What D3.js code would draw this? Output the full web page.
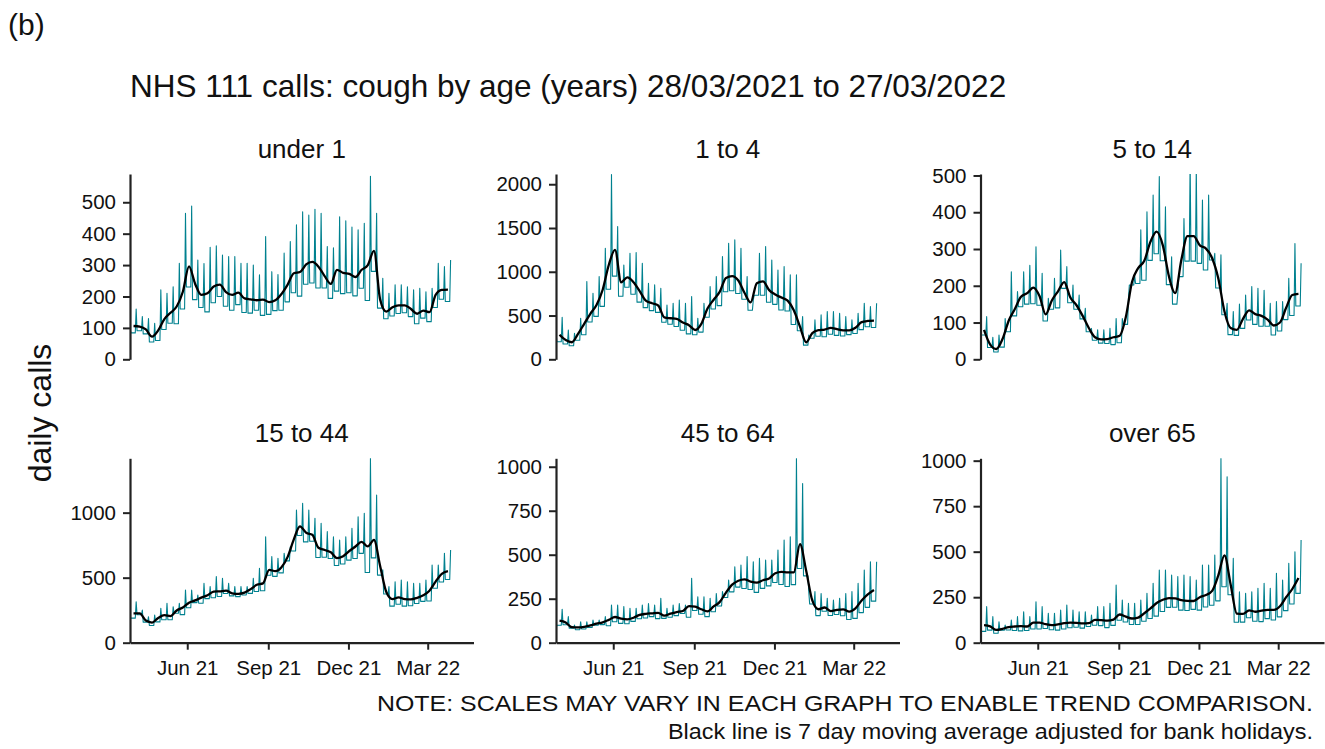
<!DOCTYPE html>
<html><head><meta charset="utf-8">
<script src="https://cdn.jsdelivr.net/npm/d3@7"></script>
<style>
body{margin:0;background:#fff}
svg{display:block}
text{font-family:"Liberation Sans",Arial,sans-serif;fill:#111}
</style>
</head><body>
<svg id="chart" width="1325" height="749"></svg>
<script>
// ---------- DATA ----------
const ageGroups = ["under 1", "1 to 4", "5 to 14", "15 to 44", "45 to 64", "over 65"];
const firstDayCalls = [100, 300, 100, 200, 80, 110]; // Sun 28/03/2021
// Weekly values, weeks Mon 29/03/2021 ... Sun 27/03/2022 (52 weeks)
const under1Weekend = [160,136,130,115,221,210,231,306,465,488,316,305,357,361,332,327,327,306,306,300,269,391,279,270,338,375,428,470,459,478,465,359,355,454,441,421,412,433,583,465,258,210,237,237,231,221,226,215,226,306,295,316];
const under1Weekday = [84,91,81,55,60,95,115,113,160,230,190,165,151,180,200,169,156,174,149,147,156,140,143,155,156,183,212,201,239,243,227,227,194,217,209,212,202,226,187,280,163,129,138,146,148,136,113,131,120,165,191,184];
const under1Avg = [106,104,95,72,92,128,148,168,215,296,240,205,210,232,238,214,205,212,194,191,188,190,182,188,208,238,274,278,302,310,295,265,240,285,275,272,262,285,300,345,190,152,166,172,172,160,145,155,150,205,221,222];

const age1to4Weekend = [480,335,297,469,888,754,945,1269,2110,1516,1078,1212,1219,1097,869,850,812,621,640,678,640,716,469,640,830,945,1173,1326,1364,1269,945,678,1212,1288,1135,1021,1059,964,964,488,278,450,507,545,545,526,488,450,526,640,602,640];
const age1to4Weekday = [200,174,154,218,280,426,490,605,800,950,720,824,744,653,590,556,536,424,400,374,332,290,281,311,480,574,613,772,784,752,686,560,732,731,652,628,563,552,398,327,162,240,263,258,286,273,267,282,294,339,372,363];
const age1to4Avg = [280,220,195,290,405,520,620,795,1080,1250,880,935,880,780,670,640,615,480,469,461,420,390,335,405,580,680,773,930,950,900,760,650,869,890,790,740,705,670,560,373,195,300,333,340,360,345,330,330,360,425,438,442];

const age5to14Weekend = [116,60,66,111,238,184,238,256,306,234,166,220,297,252,202,175,139,84,80,80,84,111,111,166,229,352,401,447,497,415,279,179,383,540,520,433,447,288,284,152,130,150,175,198,193,188,152,157,157,220,315,261];
const age5to14Weekday = [66,32,20,33,75,118,143,150,151,147,104,136,140,193,154,136,110,75,52,44,43,40,45,95,202,206,215,269,287,268,203,150,225,267,267,261,243,270,194,121,67,65,84,107,95,90,90,66,77,108,119,145];
const age5to14Avg = [80,40,28,55,105,137,170,180,195,172,122,160,185,210,168,147,118,85,60,54,55,60,64,115,210,248,268,320,347,310,225,180,270,335,335,310,301,275,220,130,85,80,110,133,123,118,108,92,100,140,175,178];

const age15to44Weekend = [315,251,200,213,264,303,277,303,405,405,367,456,431,508,495,456,431,431,431,495,572,815,662,649,687,738,1020,1072,1020,956,918,854,815,790,815,879,969,995,1418,1136,560,431,469,482,469,456,456,482,597,597,687,713];
const age15to44Weekday = [189,215,158,132,160,176,176,226,216,269,308,303,339,346,355,378,360,354,367,379,394,400,519,510,537,629,705,824,775,780,655,657,647,594,605,635,648,687,540,652,520,374,281,296,281,284,301,318,321,419,467,486];
const age15to44Avg = [225,225,170,155,190,212,205,248,270,308,325,347,365,392,395,400,380,376,385,412,445,456,560,550,580,660,795,895,845,830,730,713,695,650,665,705,740,775,740,790,590,390,335,349,335,333,345,365,400,470,530,551];

const age45to64Weekend = [190,148,100,119,119,129,129,148,214,214,205,195,195,214,223,214,252,195,214,223,214,366,261,261,252,280,290,356,432,441,489,460,479,470,470,527,583,602,1047,905,290,290,280,252,242,252,280,290,337,413,460,460];
const age45to64Weekday = [99,102,83,74,78,86,100,103,96,119,110,108,121,136,140,148,137,138,145,154,166,145,183,162,148,176,209,257,289,316,308,302,286,309,323,342,331,319,330,422,380,220,154,179,155,160,153,132,138,171,201,236];
const age45to64Avg = [125,115,88,87,90,98,108,116,130,146,137,133,142,158,164,167,170,154,165,174,180,208,205,190,178,206,232,285,330,352,360,347,341,355,365,395,403,400,400,560,410,240,190,200,180,186,189,177,195,240,275,300];

const over65Weekend = [198,143,115,97,125,143,170,143,225,198,161,161,180,207,180,170,170,152,198,198,216,317,234,216,216,234,271,326,399,399,372,363,372,363,344,427,427,482,1013,912,463,280,271,280,299,326,299,381,344,436,500,564];
const over65Weekday = [62,69,52,68,70,67,65,67,75,75,78,71,69,75,82,85,80,89,96,94,83,95,123,114,100,100,118,133,146,171,194,195,179,177,183,179,196,206,230,307,263,112,113,137,118,116,132,125,142,176,213,271];
const over65Avg = [97,90,70,76,86,89,91,89,110,110,102,97,101,107,110,109,106,107,125,124,121,127,155,143,133,138,162,188,218,236,245,243,234,230,229,250,262,285,370,480,320,160,158,178,170,176,180,180,200,250,295,355];

const yAxisMax = [590, 2117, 504, 1418, 1048, 1013];
const yTicksUnder1 = [0,100,200,300,400,500];
const yTicks1to4 = [0,500,1000,1500,2000];
const yTicks5to14 = [0,100,200,300,400,500];
const yTicks15to44 = [0,500,1000];
const yTicks45to64 = [0,250,500,750,1000];
const yTicksOver65 = [0,250,500,750,1000];
const xTickDates = ["2021-06-01","2021-09-01","2021-12-01","2022-03-01"];
const xTickLabels = ["Jun 21","Sep 21","Dec 21","Mar 22"];

const titleText = "NHS 111 calls: cough by age (years) 28/03/2021 to 27/03/2022";
const noteLine1 = "NOTE: SCALES MAY VARY IN EACH GRAPH TO ENABLE TREND COMPARISON.";
const noteLine2 = "Black line is 7 day moving average adjusted for bank holidays.";

// ---------- BUILD ----------
const weekendSeries = [under1Weekend, age1to4Weekend, age5to14Weekend, age15to44Weekend, age45to64Weekend, over65Weekend];
const weekdaySeries = [under1Weekday, age1to4Weekday, age5to14Weekday, age15to44Weekday, age45to64Weekday, over65Weekday];
const avgSeries = [under1Avg, age1to4Avg, age5to14Avg, age15to44Avg, age45to64Avg, over65Avg];
const yTickSets = [yTicksUnder1, yTicks1to4, yTicks5to14, yTicks15to44, yTicks45to64, yTicksOver65];

const parse = d3.timeParse("%Y-%m-%d");
const day0 = parse("2021-03-28");
const dayN = n => d3.timeDay.offset(day0, n);

// Mon-Sat at the weekday level, Sunday at the weekend peak
function dailyCalls(i) {
  const out = [{date: dayN(0), v: firstDayCalls[i]}];
  weekendSeries[i].forEach((hi, w) => {
    const lo = weekdaySeries[i][w];
    for (let d = 1; d <= 7; d++) out.push({date: dayN(7 * w + d), v: d === 7 ? hi : lo});
  });
  return out;
}
function avgPoints(i) {
  return avgSeries[i].map((v, w) => ({date: dayN(7 * w + 4), v}));
}

const svg = d3.select("#chart");
const colLeft = [130, 556, 980.5];
const panelW = 343.5;
const rows = [{top: 174, bottom: 359.3}, {top: 458.3, bottom: 642.7}];
const teal = "#00818f";
const axisCol = "#222";

svg.append("text").attr("x", 8).attr("y", 35).attr("font-size", 30).text("(b)");
svg.append("text").attr("x", 130).attr("y", 97).attr("font-size", 31.5).text(titleText);
svg.append("text").attr("transform", "translate(51,413) rotate(-90)")
  .attr("text-anchor", "middle").attr("font-size", 32).text("daily calls");

const x = d3.scaleTime().domain([day0, parse("2022-04-22")]).range([0, panelW]);

ageGroups.forEach((name, i) => {
  const r = rows[Math.floor(i / 3)], c = i % 3;
  const g = svg.append("g").attr("transform", `translate(${colLeft[c]},${r.top})`);
  const h = r.bottom - r.top;
  const y = d3.scaleLinear().domain([0, yAxisMax[i]]).range([h, 0]);

  svg.append("text").attr("x", colLeft[c] + panelW / 2).attr("y", r.top - 16)
    .attr("text-anchor", "middle").attr("font-size", 26).text(name);

  const clipId = "clip" + i;
  g.append("clipPath").attr("id", clipId).append("rect")
    .attr("x", 0).attr("y", 0).attr("width", panelW).attr("height", h);

  const line = d3.line().x(d => x(d.date)).y(d => y(d.v));
  g.append("path").datum(dailyCalls(i)).attr("clip-path", `url(#${clipId})`)
    .attr("fill", "none").attr("stroke", teal).attr("stroke-width", 1.1)
    .attr("stroke-linejoin", "round").attr("d", line);
  g.append("path").datum(avgPoints(i)).attr("clip-path", `url(#${clipId})`)
    .attr("fill", "none").attr("stroke", "#000").attr("stroke-width", 2.3)
    .attr("stroke-linejoin", "round")
    .attr("d", line.curve(d3.curveMonotoneX));

  const ya = g.append("g").call(d3.axisLeft(y).tickValues(yTickSets[i]).tickFormat(d3.format("d"))
    .tickSize(7).tickPadding(7).tickSizeOuter(0));
  ya.select(".domain").attr("stroke", axisCol).attr("stroke-width", 2.2);
  ya.selectAll(".tick line").attr("stroke", axisCol).attr("stroke-width", 2);
  ya.selectAll(".tick text").attr("font-size", 20.5).attr("fill", "#111").attr("font-family", "Liberation Sans, Arial, sans-serif");

  if (r === rows[1]) {
    const xa = g.append("g").attr("transform", `translate(0,${h})`)
      .call(d3.axisBottom(x).tickValues(xTickDates.map(parse))
        .tickFormat((d, k) => xTickLabels[k]).tickSize(7).tickPadding(11).tickSizeOuter(0));
    xa.select(".domain").attr("stroke", axisCol).attr("stroke-width", 2.2);
    xa.selectAll(".tick line").attr("stroke", axisCol).attr("stroke-width", 2);
    xa.selectAll(".tick text").attr("font-size", 20.5).attr("fill", "#111").attr("font-family", "Liberation Sans, Arial, sans-serif");
  }
});

svg.append("text").attr("x", 1313).attr("y", 711).attr("text-anchor", "end")
  .attr("font-size", 22).style("font-family", "'Liberation Sans Narrow','Arial Narrow',sans-serif")
  .attr("textLength", 936).attr("lengthAdjust", "spacingAndGlyphs").text(noteLine1);
svg.append("text").attr("x", 1313).attr("y", 739).attr("text-anchor", "end")
  .attr("font-size", 22).style("font-family", "'Liberation Sans Narrow','Arial Narrow',sans-serif")
  .attr("textLength", 645).attr("lengthAdjust", "spacingAndGlyphs").text(noteLine2);
</script>
</body></html>
